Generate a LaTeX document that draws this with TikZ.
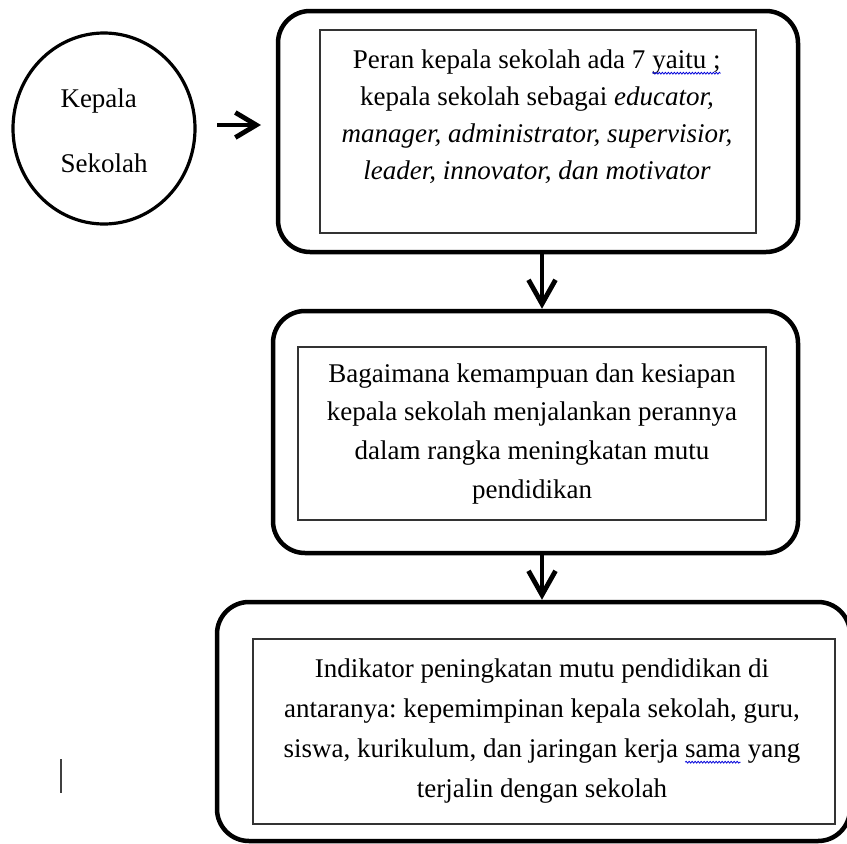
\documentclass[tikz,border=0pt]{standalone}
\usepackage{fontspec}
\setmainfont{Liberation Serif}
\usetikzlibrary{shapes.geometric,arrows.meta,decorations.pathmorphing}
\newcommand\spellwave[1]{\tikz[baseline=(sw.base)]{\node[inner sep=0pt,outer sep=0pt,anchor=base,draw=none] (sw) at (0pt,0pt) {#1};\draw[blue!85!black,line width=0.8pt,decorate,decoration={snake,amplitude=0.9pt,segment length=3pt}] ([yshift=-5pt]sw.base west) -- ([yshift=-5pt]sw.base east);}}
\begin{document}
\begin{tikzpicture}[x=1pt,y=-1pt,
  outerbox/.style={draw, line width=4.5pt, rounded corners=32pt, inner sep=0pt},
  innerbox/.style={draw=black!80, line width=1.3pt, inner sep=0pt},
  boxtext/.style={align=center, inner sep=0pt, anchor=north},
  arr/.style={line width=4.8pt, -{Straight Barb[length=24pt,width=27pt]}},
  cursorline/.style={draw=black!75, line width=2pt}
]
\useasboundingbox (0,0) rectangle (847,844);

% circle
\node[ellipse, draw, line width=3.2pt, minimum width=182pt, minimum height=191pt,
      inner sep=0pt, align=left, font=\fontsize{27pt}{65pt}\selectfont] (circ) at (104,128.5) {\rule{0pt}{24pt}Kepala\\Sekolah};

% boxes
\node[outerbox, minimum width=520pt, minimum height=241pt] (b1) at (538,131.5) {};
\node[innerbox, minimum width=436pt, minimum height=203pt] (i1) at (538,131.5) {};
\node[boxtext, font=\fontsize{27pt}{37pt}\selectfont\frenchspacing] (t1) at (537,48) {\rule{0pt}{20pt}Peran kepala sekolah ada 7 \spellwave{yaitu ;}\\
kepala sekolah sebagai \textit{educator,}\\
\textit{manager, administrator, supervisior,}\\
\textit{leader, innovator, dan motivator}};

\node[outerbox, minimum width=525pt, minimum height=242pt] (b2) at (535.5,432) {};
\node[innerbox, minimum width=468pt, minimum height=173pt] (i2) at (532,433.5) {};
\node[boxtext, font=\fontsize{27pt}{38.7pt}\selectfont\frenchspacing] (t2) at (532,362) {\rule{0pt}{20pt}Bagaimana kemampuan dan kesiapan\\
kepala sekolah menjalankan perannya\\
dalam rangka meningkatan mutu\\
pendidikan};

\node[outerbox, minimum width=633pt, minimum height=239pt] (b3) at (533.5,721.5) {};
\node[innerbox, minimum width=582pt, minimum height=185pt] (i3) at (544,731.5) {};
\node[boxtext, font=\fontsize{27pt}{40pt}\selectfont\frenchspacing] (t3) at (542,657) {\rule{0pt}{20pt}Indikator peningkatan mutu pendidikan di\\
antaranya: kepemimpinan kepala sekolah, guru,\\
siswa, kurikulum, dan jaringan kerja \spellwave{sama} yang\\
terjalin dengan sekolah};

% arrows
\coordinate (a1s) at (217,125);
\coordinate (a1e) at (261,125);
\draw[arr, -{Straight Barb[length=21pt,width=25pt]}] (a1s) -- (a1e);
\coordinate (ax) at (542,0);
\draw[arr] (b1.south -| ax) -- (b2.north -| ax);
\draw[arr] (b2.south -| ax) -- (b3.north -| ax);

% text cursor
\coordinate (cur1) at (61,759);
\coordinate (cur2) at (61,793);
\draw[cursorline] (cur1) -- (cur2);
\end{tikzpicture}
\end{document}
